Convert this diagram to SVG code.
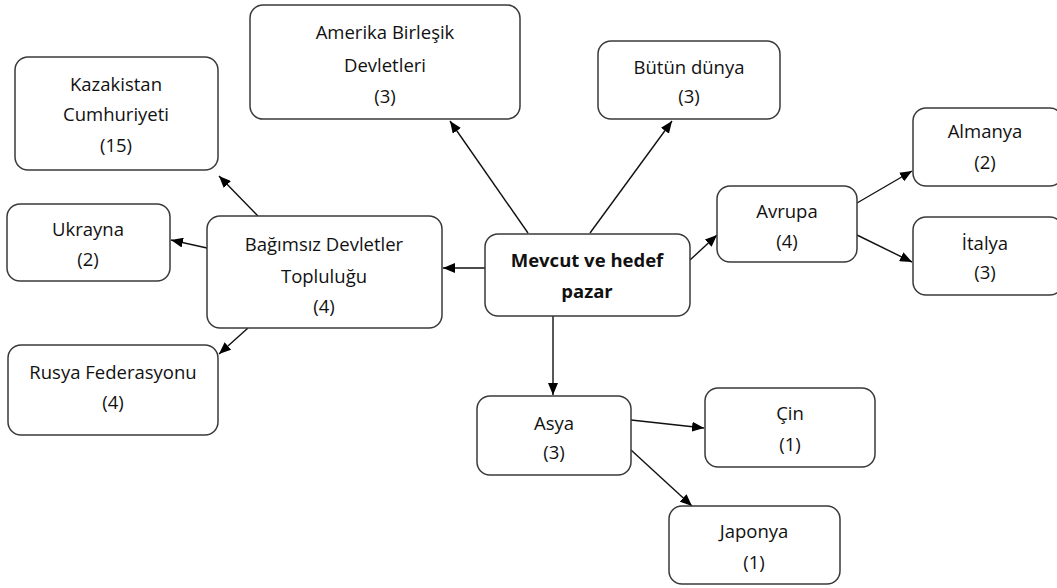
<svg xmlns="http://www.w3.org/2000/svg" width="1057" height="588" viewBox="0 0 1057 588">
  <style>
    .box { fill: #ffffff; stroke: #3a3a3a; stroke-width: 1.5; }
    .lbl { font-family: "Open Sans", "Liberation Sans", sans-serif; font-size: 18.5px; fill: #111111; text-anchor: middle; }
    .bold { font-weight: bold; }
    .edge { stroke: #111111; stroke-width: 1.4; fill: none; marker-end: url(#arrow); }
  </style>
  <defs>
    <marker id="arrow" viewBox="0 0 12 10" refX="12" refY="5" markerWidth="12" markerHeight="10" markerUnits="userSpaceOnUse" orient="auto">
      <path d="M0,0 L12,5 L0,10 Z" fill="#000000"/>
    </marker>
  </defs>
  <rect width="1057" height="588" fill="#ffffff"/>

  <g id="connectors">
    <line class="edge" x1="528" y1="233" x2="450" y2="121"/>
    <line class="edge" x1="590" y1="233" x2="672" y2="121"/>
    <line class="edge" x1="485" y1="268" x2="443" y2="268"/>
    <line class="edge" x1="690" y1="260" x2="717" y2="235"/>
    <line class="edge" x1="553" y1="316" x2="553" y2="395"/>
    <line class="edge" x1="258" y1="216" x2="219" y2="176"/>
    <line class="edge" x1="207" y1="248" x2="171" y2="240"/>
    <line class="edge" x1="248" y1="328" x2="219" y2="354"/>
    <line class="edge" x1="857" y1="203" x2="912" y2="171"/>
    <line class="edge" x1="857" y1="235" x2="912" y2="262"/>
    <line class="edge" x1="631" y1="420" x2="704" y2="428"/>
    <line class="edge" x1="631" y1="450" x2="692" y2="506"/>
  </g>

  <g id="mevcut">
    <rect class="box" x="485" y="234" width="205" height="82" rx="13"/>
    <text class="lbl bold" x="587" y="267">Mevcut ve hedef</text>
    <text class="lbl bold" x="587" y="298">pazar</text>
  </g>

  <g id="kazakistan">
    <rect class="box" x="15" y="57" width="203" height="113" rx="13"/>
    <text class="lbl" x="116" y="91">Kazakistan</text>
    <text class="lbl" x="116" y="121">Cumhuriyeti</text>
    <text class="lbl" x="116" y="152">(15)</text>
  </g>

  <g id="amerika">
    <rect class="box" x="250" y="5" width="270" height="114" rx="13"/>
    <text class="lbl" x="385" y="39">Amerika Birleşik</text>
    <text class="lbl" x="385" y="72">Devletleri</text>
    <text class="lbl" x="385" y="103">(3)</text>
  </g>

  <g id="butun-dunya">
    <rect class="box" x="598" y="41" width="182" height="78" rx="13"/>
    <text class="lbl" x="689" y="74">Bütün dünya</text>
    <text class="lbl" x="689" y="103">(3)</text>
  </g>

  <g id="almanya">
    <rect class="box" x="913" y="108" width="150" height="78" rx="13"/>
    <text class="lbl" x="985" y="138">Almanya</text>
    <text class="lbl" x="985" y="169">(2)</text>
  </g>

  <g id="italya">
    <rect class="box" x="913" y="217" width="150" height="78" rx="13"/>
    <text class="lbl" x="985" y="250">İtalya</text>
    <text class="lbl" x="985" y="279">(3)</text>
  </g>

  <g id="avrupa">
    <rect class="box" x="717" y="186" width="140" height="76" rx="13"/>
    <text class="lbl" x="787" y="218">Avrupa</text>
    <text class="lbl" x="787" y="248">(4)</text>
  </g>

  <g id="bagimsiz">
    <rect class="box" x="207" y="216" width="235" height="112" rx="13"/>
    <text class="lbl" x="324" y="251">Bağımsız Devletler</text>
    <text class="lbl" x="324" y="283">Topluluğu</text>
    <text class="lbl" x="324" y="313">(4)</text>
  </g>

  <g id="ukrayna">
    <rect class="box" x="7" y="204" width="163" height="77" rx="13"/>
    <text class="lbl" x="88" y="236">Ukrayna</text>
    <text class="lbl" x="88" y="266">(2)</text>
  </g>

  <g id="rusya">
    <rect class="box" x="8" y="345" width="210" height="90" rx="13"/>
    <text class="lbl" x="113" y="379">Rusya Federasyonu</text>
    <text class="lbl" x="113" y="409">(4)</text>
  </g>

  <g id="asya">
    <rect class="box" x="477" y="396" width="154" height="79" rx="13"/>
    <text class="lbl" x="554" y="430">Asya</text>
    <text class="lbl" x="554" y="459">(3)</text>
  </g>

  <g id="cin">
    <rect class="box" x="705" y="388" width="170" height="79" rx="13"/>
    <text class="lbl" x="790" y="420">Çin</text>
    <text class="lbl" x="790" y="451">(1)</text>
  </g>

  <g id="japonya">
    <rect class="box" x="669" y="506" width="171" height="78" rx="13"/>
    <text class="lbl" x="754" y="538">Japonya</text>
    <text class="lbl" x="754" y="569">(1)</text>
  </g>
</svg>
